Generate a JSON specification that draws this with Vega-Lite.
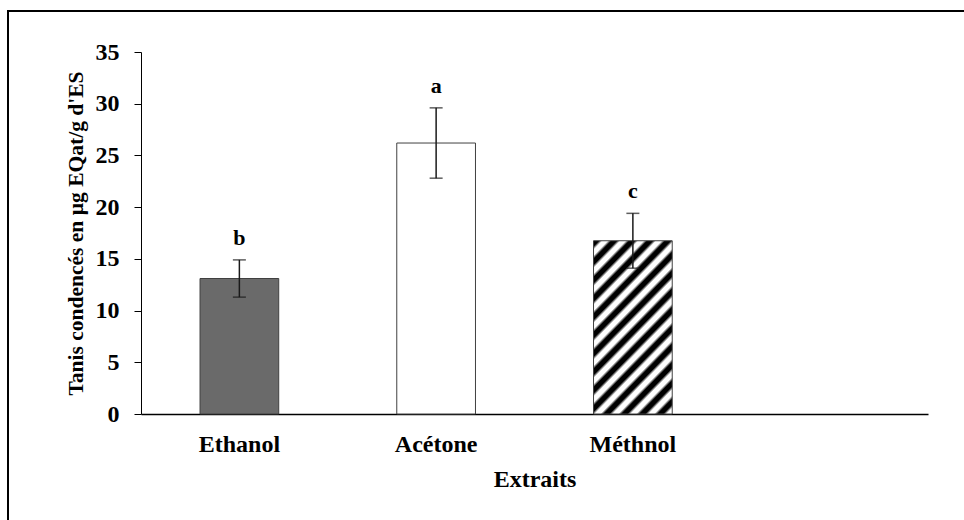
{
  "$schema": "https://vega.github.io/schema/vega-lite/v6.json",
  "width": 960,
  "height": 515,
  "autosize": "none",
  "padding": {"left": 8, "top": 11, "right": 0, "bottom": 0},
  "background": "white",
  "config": {
    "view": {"stroke": "black", "strokeWidth": 2},
    "font": "Liberation Serif",
    "axis": {"grid": false, "domainColor": "black", "tickColor": "black", "labelColor": "black", "titleColor": "black", "labelFontWeight": "bold", "titleFontWeight": "bold", "labelFont": "Liberation Serif", "titleFont": "Liberation Serif"}
  },
  "data": {
    "values": [
      {"extrait": "Ethanol", "teneur": 13.1, "bas": 11.3, "haut": 14.9, "lettre": "b"},
      {"extrait": "Acétone", "teneur": 26.2, "bas": 22.8, "haut": 29.6, "lettre": "a"},
      {"extrait": "Méthnol", "teneur": 16.75, "bas": 14.1, "haut": 19.4, "lettre": "c"}
    ]
  },
  "encoding": {
    "x": {
      "field": "extrait",
      "type": "nominal",
      "sort": null,
      "scale": {"domain": ["Ethanol", "Acétone", "Méthnol", " "], "range": [133, 920], "paddingInner": 0.6, "paddingOuter": 0.3},
      "axis": {
        "orient": "bottom",
        "offset": -112,
        "labelAngle": 0,
        "ticks": false,
        "domainWidth": 1.5,
        "labelFontSize": 24,
        "labelPadding": 18,
        "title": "Extraits",
        "titleFontSize": 24,
        "titlePadding": 11
      }
    }
  },
  "layer": [
    {
      "transform": [{"filter": "datum.extrait === 'Ethanol'"}],
      "mark": {"type": "bar", "fill": "#6a6a6a", "stroke": "#404040", "strokeWidth": 1},
      "encoding": {
        "y": {
          "field": "teneur",
          "type": "quantitative",
          "scale": {"domain": [0, 35], "range": [403, 41], "nice": false, "zero": true},
          "axis": {
            "offset": -133,
            "values": [0, 5, 10, 15, 20, 25, 30, 35],
            "tickSize": 7,
            "domainWidth": 1,
            "labelFontSize": 24,
            "labelPadding": 15,
            "title": "Tanis condencés en µg EQat/g d'ES",
            "titleFontSize": 21.5,
            "titlePadding": 8
          }
        }
      }
    },
    {
      "transform": [{"filter": "datum.extrait === 'Acétone'"}],
      "mark": {"type": "bar", "fill": "white", "stroke": "#404040", "strokeWidth": 1},
      "encoding": {"y": {"field": "teneur", "type": "quantitative"}}
    },
    {
      "transform": [{"filter": "datum.extrait === 'Méthnol'"}],
      "mark": {
        "type": "bar",
        "stroke": "#404040",
        "strokeWidth": 1,
        "fill": {
          "gradient": "linear",
          "x1": 0, "y1": 0, "x2": 0.567, "y2": 1.22,
          "stops": [
            {"offset": 0, "color": "black"}, {"offset": 0.0214, "color": "black"}, {"offset": 0.0357, "color": "white"}, {"offset": 0.0571, "color": "white"},
            {"offset": 0.0714, "color": "black"}, {"offset": 0.0929, "color": "black"}, {"offset": 0.1071, "color": "white"}, {"offset": 0.1286, "color": "white"},
            {"offset": 0.1429, "color": "black"}, {"offset": 0.1643, "color": "black"}, {"offset": 0.1786, "color": "white"}, {"offset": 0.2, "color": "white"},
            {"offset": 0.2143, "color": "black"}, {"offset": 0.2357, "color": "black"}, {"offset": 0.25, "color": "white"}, {"offset": 0.2714, "color": "white"},
            {"offset": 0.2857, "color": "black"}, {"offset": 0.3071, "color": "black"}, {"offset": 0.3214, "color": "white"}, {"offset": 0.3429, "color": "white"},
            {"offset": 0.3571, "color": "black"}, {"offset": 0.3786, "color": "black"}, {"offset": 0.3929, "color": "white"}, {"offset": 0.4143, "color": "white"},
            {"offset": 0.4286, "color": "black"}, {"offset": 0.45, "color": "black"}, {"offset": 0.4643, "color": "white"}, {"offset": 0.4857, "color": "white"},
            {"offset": 0.5, "color": "black"}, {"offset": 0.5214, "color": "black"}, {"offset": 0.5357, "color": "white"}, {"offset": 0.5571, "color": "white"},
            {"offset": 0.5714, "color": "black"}, {"offset": 0.5929, "color": "black"}, {"offset": 0.6071, "color": "white"}, {"offset": 0.6286, "color": "white"},
            {"offset": 0.6429, "color": "black"}, {"offset": 0.6643, "color": "black"}, {"offset": 0.6786, "color": "white"}, {"offset": 0.7, "color": "white"},
            {"offset": 0.7143, "color": "black"}, {"offset": 0.7357, "color": "black"}, {"offset": 0.75, "color": "white"}, {"offset": 0.7714, "color": "white"},
            {"offset": 0.7857, "color": "black"}, {"offset": 0.8071, "color": "black"}, {"offset": 0.8214, "color": "white"}, {"offset": 0.8429, "color": "white"},
            {"offset": 0.8571, "color": "black"}, {"offset": 0.8786, "color": "black"}, {"offset": 0.8929, "color": "white"}, {"offset": 0.9143, "color": "white"},
            {"offset": 0.9286, "color": "black"}, {"offset": 0.95, "color": "black"}, {"offset": 0.9643, "color": "white"}, {"offset": 0.9857, "color": "white"},
            {"offset": 1, "color": "black"}
          ]
        }
      },
      "encoding": {"y": {"field": "teneur", "type": "quantitative"}}
    },
    {
      "mark": {"type": "rule", "color": "#1a1a1a", "strokeWidth": 1.5},
      "encoding": {
        "y": {"field": "bas", "type": "quantitative"},
        "y2": {"field": "haut"}
      }
    },
    {
      "mark": {"type": "tick", "color": "#1a1a1a", "thickness": 1.5, "size": 13, "orient": "horizontal"},
      "encoding": {"y": {"field": "haut", "type": "quantitative"}}
    },
    {
      "mark": {"type": "tick", "color": "#1a1a1a", "thickness": 1.5, "size": 13, "orient": "horizontal"},
      "encoding": {"y": {"field": "bas", "type": "quantitative"}}
    },
    {
      "mark": {"type": "text", "font": "Liberation Serif", "fontWeight": "bold", "fontSize": 22, "baseline": "bottom", "dy": -10, "color": "black"},
      "encoding": {
        "y": {"field": "haut", "type": "quantitative"},
        "text": {"field": "lettre"}
      }
    }
  ]
}
